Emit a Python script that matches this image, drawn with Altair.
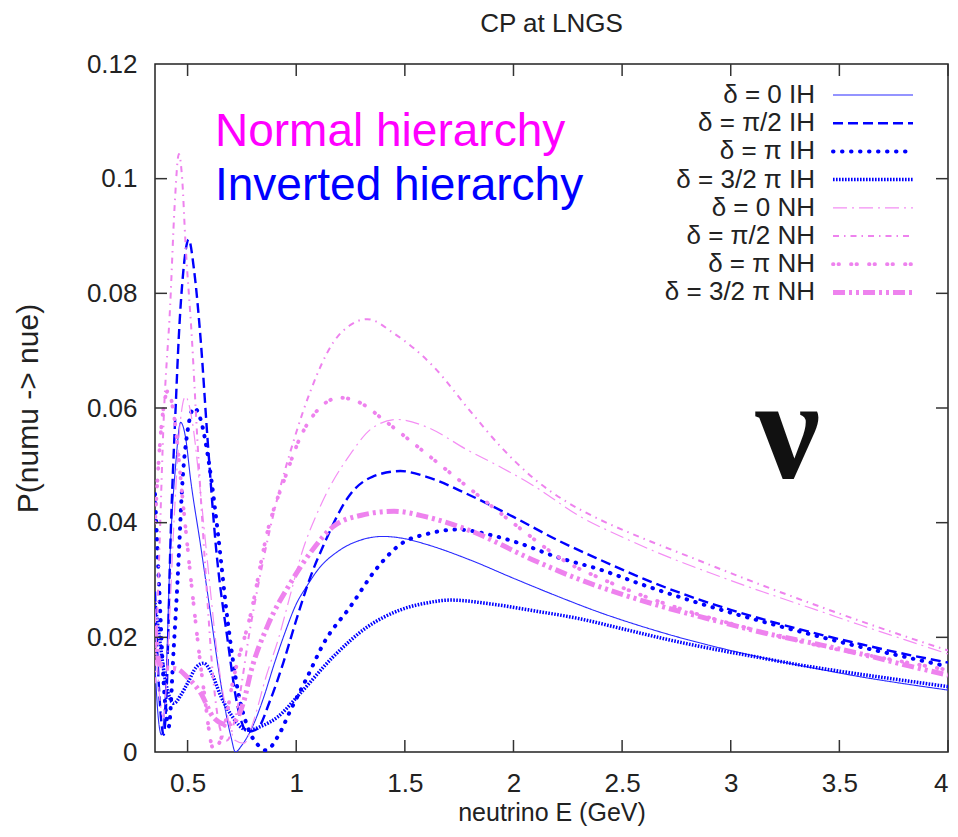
import altair as alt
import pandas as pd

# ---------------- data ----------------
SERIES = ["δ = 0 IH", "δ = π/2 IH", "δ = π IH", "δ = 3/2 π IH",
          "δ = 0 NH", "δ = π/2 NH", "δ = π NH", "δ = 3/2 π NH"]

E_0IH = [0.35, 0.365, 0.38, 0.40, 0.42, 0.445, 0.468, 0.49, 0.514, 0.56, 0.606, 0.65, 0.70, 0.72, 0.75,
         0.80, 0.85, 0.90, 0.95, 1.00, 1.05, 1.10, 1.20, 1.30, 1.40, 1.50, 1.60, 1.80, 2.00, 2.20, 2.40,
         2.60, 2.80, 3.00, 3.20, 3.40, 3.60, 3.80, 4.00]
P_0IH = [0.015, 0.006, 0.003, 0.012, 0.035, 0.050, 0.0575, 0.055, 0.0475, 0.036, 0.024, 0.0126, 0.0026,
         0.0, 0.0012, 0.0045, 0.0095, 0.0155, 0.021, 0.0258, 0.029, 0.0318, 0.0352, 0.037, 0.0376, 0.0372,
         0.0362, 0.0335, 0.0303, 0.0272, 0.0243, 0.0218, 0.0196, 0.0177, 0.016, 0.0145, 0.0131, 0.0119, 0.0108]

E_pi2IH = [0.35, 0.37, 0.39, 0.405, 0.42, 0.445, 0.459, 0.48, 0.505, 0.53, 0.56, 0.592, 0.63, 0.684, 0.73,
           0.776, 0.82, 0.88, 0.94, 1.00, 1.066, 1.125, 1.25, 1.35, 1.48, 1.60, 1.787, 2.00, 2.20, 2.40,
           2.60, 2.80, 3.00, 3.20, 3.40, 3.60, 3.80, 4.00]
P_pi2IH = [0.028, 0.010, 0.003, 0.012, 0.035, 0.060, 0.072, 0.0837, 0.0894, 0.084, 0.072, 0.0545, 0.036,
           0.0196, 0.008, 0.0035, 0.004, 0.009, 0.0155, 0.023, 0.0306, 0.036, 0.045, 0.048, 0.049, 0.048,
           0.045, 0.041, 0.037, 0.0335, 0.0302, 0.0273, 0.0248, 0.0226, 0.0206, 0.0188, 0.0171, 0.0156]

E_piIH = [0.35, 0.37, 0.39, 0.413, 0.436, 0.454, 0.477, 0.50, 0.53, 0.56, 0.60, 0.64, 0.684, 0.73, 0.78,
          0.83, 0.86, 0.92, 0.974, 1.05, 1.127, 1.25, 1.37, 1.49, 1.60, 1.74, 1.90, 2.02, 2.20, 2.40,
          2.60, 2.80, 3.00, 3.20, 3.40, 3.60, 3.80, 4.00]
P_piIH = [0.045, 0.028, 0.012, 0.0044, 0.018, 0.030, 0.0475, 0.056, 0.060, 0.058, 0.050, 0.038, 0.023,
          0.011, 0.004, 0.001, 0.0003, 0.003, 0.0073, 0.013, 0.019, 0.0254, 0.032, 0.0365, 0.038, 0.0388,
          0.0378, 0.0365, 0.034, 0.0318, 0.0291, 0.0266, 0.0243, 0.0222, 0.0202, 0.0183, 0.0166, 0.0149]

E_3pi2IH = [0.35, 0.37, 0.40, 0.437, 0.47, 0.50, 0.54, 0.574, 0.61, 0.65, 0.70, 0.776, 0.84, 0.914, 1.02,
            1.17, 1.327, 1.48, 1.60, 1.71, 1.90, 2.10, 2.31, 2.50, 2.70, 2.90, 3.10, 3.30, 3.50, 3.70, 4.00]
P_3pi2IH = [0.026, 0.020, 0.012, 0.0085, 0.010, 0.012, 0.0148, 0.0155, 0.0138, 0.010, 0.0065, 0.0038,
            0.0045, 0.0061, 0.0103, 0.0166, 0.0218, 0.0248, 0.026, 0.0265, 0.0258, 0.0246, 0.0232, 0.0215,
            0.0197, 0.0181, 0.0167, 0.0153, 0.0141, 0.0130, 0.0114]

E_0NH = [0.35, 0.37, 0.39, 0.41, 0.44, 0.465, 0.49, 0.52, 0.56, 0.60, 0.64, 0.68, 0.72, 0.76, 0.80, 0.86,
         0.92, 0.97, 1.02, 1.11, 1.25, 1.35, 1.465, 1.60, 1.787, 1.95, 2.09, 2.31, 2.50, 2.70, 2.90, 3.15,
         3.40, 3.60, 3.80, 4.00]
P_0NH = [0.025, 0.010, 0.006, 0.018, 0.042, 0.057, 0.062, 0.058, 0.045, 0.030, 0.016, 0.007, 0.002, 0.0015,
         0.005, 0.013, 0.020, 0.027, 0.034, 0.0428, 0.052, 0.0565, 0.058, 0.0567, 0.0527, 0.0495, 0.0465,
         0.041, 0.0375, 0.0342, 0.0313, 0.0279, 0.0247, 0.0221, 0.0196, 0.0171]

E_pi2NH = [0.35, 0.37, 0.39, 0.42, 0.44, 0.46, 0.475, 0.49, 0.52, 0.545, 0.58, 0.62, 0.65, 0.68, 0.72, 0.79,
           0.88, 0.99, 1.066, 1.17, 1.25, 1.327, 1.45, 1.63, 1.80, 1.94, 2.10, 2.25, 2.40, 2.60, 2.80, 3.00,
           3.15, 3.40, 3.60, 3.80, 4.00]
P_pi2NH = [0.012, 0.035, 0.058, 0.078, 0.095, 0.1043, 0.100, 0.089, 0.072, 0.0545, 0.033, 0.012, 0.004,
           0.002, 0.006, 0.022, 0.039, 0.0545, 0.063, 0.0714, 0.0745, 0.0755, 0.073, 0.0673, 0.0595, 0.0533,
           0.0475, 0.0435, 0.0405, 0.0372, 0.0342, 0.0312, 0.029, 0.0255, 0.0228, 0.0202, 0.0177]

E_piNH = [0.35, 0.38, 0.41, 0.44, 0.48, 0.53, 0.574, 0.62, 0.66, 0.71, 0.79, 0.87, 0.95, 1.02, 1.10, 1.20,
          1.30, 1.40, 1.60, 1.787, 2.02, 2.25, 2.40, 2.60, 2.80, 3.00, 3.20, 3.40, 3.60, 3.80, 4.00]
P_piNH = [0.040, 0.057, 0.063, 0.058, 0.043, 0.025, 0.011, 0.0005, 0.003, 0.0126, 0.024, 0.0388, 0.048,
          0.055, 0.0597, 0.0618, 0.0608, 0.058, 0.052, 0.0463, 0.0393, 0.033, 0.0303, 0.0272, 0.0246,
          0.0224, 0.0204, 0.0186, 0.0171, 0.0157, 0.0143]

E_3pi2NH = [0.35, 0.37, 0.40, 0.45, 0.50, 0.56, 0.62, 0.68, 0.72, 0.76, 0.79, 0.868, 0.974, 1.066, 1.17,
            1.30, 1.45, 1.60, 1.787, 2.09, 2.31, 2.50, 2.70, 2.90, 3.15, 3.40, 3.60, 3.80, 4.00]
P_3pi2NH = [0.022, 0.0155, 0.0147, 0.0145, 0.013, 0.0103, 0.006, 0.0048, 0.0055, 0.009, 0.0138, 0.022,
            0.0295, 0.0348, 0.0393, 0.0413, 0.042, 0.041, 0.0388, 0.0335, 0.030, 0.0275, 0.0252, 0.0232,
            0.0208, 0.0188, 0.0171, 0.0152, 0.0134]

X_TICKS = [0.5, 1, 1.5, 2, 2.5, 3, 3.5, 4]
Y_TICKS = [0, 0.02, 0.04, 0.06, 0.08, 0.1, 0.12]

# ---------------- styles ----------------
STYLES = [
    dict(color="#2a2aff", strokeWidth=1.1, strokeDash=[1, 0], strokeCap="butt"),
    dict(color="#0000ff", strokeWidth=2.4, strokeDash=[10, 5], strokeCap="butt"),
    dict(color="#0000ff", strokeWidth=4.0, strokeDash=[0.5, 8.5], strokeCap="round"),
    dict(color="#0000ff", strokeWidth=3.5, strokeDash=[1.6, 1.4], strokeCap="butt"),
    dict(color="#f48ef4", strokeWidth=1.2, strokeDash=[14, 5, 2, 5], strokeCap="butt"),
    dict(color="#ee82ee", strokeWidth=2.0, strokeDash=[6, 5, 1.5, 5], strokeCap="butt"),
    dict(color="#ee82ee", strokeWidth=3.8, strokeDash=[0.5, 5, 0.5, 12], strokeCap="round"),
    dict(color="#ee82ee", strokeWidth=5.0, strokeDash=[12, 4, 3, 4, 3, 4], strokeCap="butt"),
]

W, H = 793, 688
FONT = "Liberation Sans"

pairs = [(E_0IH, P_0IH), (E_pi2IH, P_pi2IH), (E_piIH, P_piIH), (E_3pi2IH, P_3pi2IH),
         (E_0NH, P_0NH), (E_pi2NH, P_pi2NH), (E_piNH, P_piNH), (E_3pi2NH, P_3pi2NH)]

x_scale = alt.Scale(domain=[0.35, 4], nice=False, zero=False)
y_scale = alt.Scale(domain=[0, 0.12], nice=False, zero=False)
x_axis = alt.Axis(values=X_TICKS, format=".1~f", title="neutrino E (GeV)", titleFontSize=25,
                  titleX=W / 2, titleY=60, titleBaseline="middle")
y_axis = alt.Axis(values=Y_TICKS, format=".2~f", title="P(numu -> nue)", titleFontSize=30,
                  titleX=-127, titleY=H / 2, titleAlign="center", titleBaseline="middle")


def X():
    return alt.X("E:Q", scale=x_scale, axis=x_axis)


def Y():
    return alt.Y("P:Q", scale=y_scale, axis=y_axis)


layers = []
for name, (es, ps), st in zip(SERIES, pairs, STYLES):
    d = pd.DataFrame({"E": es, "P": ps, "series": name})
    layers.append(alt.Chart(d).mark_line(interpolate="monotone", clip=True, **st).encode(x=X(), y=Y()))

# inward ticks on all four sides
xt = pd.DataFrame({"E": X_TICKS})
yt = pd.DataFrame({"P": Y_TICKS[1:-1]})
tick_style = dict(color="#333333", strokeWidth=1.5)
layers += [
    alt.Chart(xt).mark_rule(**tick_style).encode(x=X(), y=alt.value(H), y2=alt.value(H - 12)),
    alt.Chart(xt).mark_rule(**tick_style).encode(x=X(), y=alt.value(0), y2=alt.value(12)),
    alt.Chart(yt).mark_rule(**tick_style).encode(y=Y(), x=alt.value(0), x2=alt.value(12)),
    alt.Chart(yt).mark_rule(**tick_style).encode(y=Y(), x=alt.value(W), x2=alt.value(W - 12)),
]

# key (gnuplot style: label then sample line)
LEG_Y = [31 + 28.2 * i for i in range(len(SERIES))]
for name, ly, st in zip(SERIES, LEG_Y, STYLES):
    layers.append(alt.Chart(pd.DataFrame({"series": [name]})).mark_rule(**st).encode(
        x=alt.value(678), x2=alt.value(758), y=alt.value(ly)))
leg = pd.DataFrame({"series": SERIES, "ly": LEG_Y})
layers.append(alt.Chart(leg).mark_text(align="right", baseline="middle", font=FONT, fontSize=26,
                                       color="#222222").encode(
    y=alt.Y("ly:Q", scale=None), x=alt.value(660), text="series:N"))

ann = pd.DataFrame({"t": ["Normal hierarchy", "Inverted hierarchy"], "c": ["#ff00ff", "#0000ff"],
                    "ty": [82, 136]})
layers.append(alt.Chart(ann).mark_text(align="left", baseline="alphabetic", font=FONT, fontSize=46).encode(
    x=alt.value(60), y=alt.Y("ty:Q", scale=None), text="t:N", color=alt.Color("c:N", scale=None)))

layers.append(alt.Chart(pd.DataFrame({"t": ["ν"]})).mark_text(
    align="center", baseline="alphabetic", font="Liberation Serif", fontWeight="bold",
    fontSize=145, color="#111111").encode(x=alt.value(633), y=alt.value(414), text="t:N"))

layers.append(alt.Chart(pd.DataFrame({"t": ["CP at LNGS"]})).mark_text(
    align="center", baseline="middle", font=FONT, fontSize=26, color="#222222").encode(
    x=alt.value(W / 2), y=alt.value(-40), text="t:N"))

chart = alt.layer(*layers).properties(
    width=W, height=H,
    padding={"left": 147, "top": 56, "right": 2, "bottom": 77},
    autosize=alt.AutoSizeParams(type="none"),
).configure_view(stroke="#222222", strokeWidth=1.5).configure_axis(
    labelFont=FONT, labelFontSize=26, labelColor="#222222", titleFont=FONT,
    titleFontWeight="normal", titleColor="#222222", domain=False, ticks=False, grid=False,
    labelPadding=18,
)

chart.save("out.html", embed_options={"renderer": "svg", "actions": False})
